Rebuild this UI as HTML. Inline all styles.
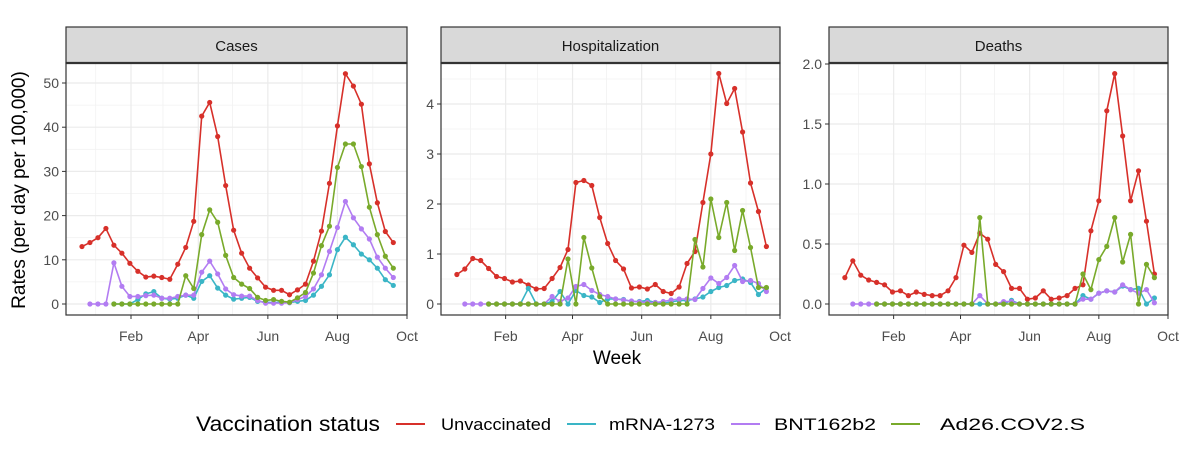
<!DOCTYPE html>
<html><head><meta charset="utf-8"><style>
body{margin:0;background:#fff;}
svg{display:block;font-family:"Liberation Sans",sans-serif;}
</style></head><body>
<svg id="chart" width="1200" height="451" viewBox="0 0 1200 451"></svg>
<script>
const weeks = Array.from({length:40},(_,k)=>k); // week index, day = -12 + 7k (days from Jan 1)
const monthTicks = ["Feb","Apr","Jun","Aug","Oct"];
const monthDays = [31,90,151,212,273];
const minorDays = [0,59,120,181,243];
const seriesNames = ["Unvaccinated","mRNA-1273","BNT162b2","Ad26.COV2.S"];
const colors = ["#d7302a","#3ab5c6","#b27cf2","#79aa2b"];
const panelTitles = ["Cases","Hospitalization","Deaths"];
const casesUnvax = [13,13.9,15,17.1,13.3,11.5,9.2,7.4,6.1,6.3,6,5.6,9,12.8,18.7,42.5,45.6,37.9,26.8,16.7,11.5,8.1,5.9,3.8,3.1,3.1,2.1,3.2,4.5,9.7,16.5,27.3,40.3,52.1,49.3,45.2,31.7,22.9,16.4,13.9];
const casesMrna = [null,null,null,null,0,0,0,1,2.3,2.8,1.3,1.1,1.3,2,1.3,5.1,6.4,3.6,2,1.1,1.3,1.5,0.6,0.4,0.3,0.4,0.3,0.6,0.8,2,4,6.6,12.3,15.1,13.4,11.3,10,8.1,5.5,4.2];
const casesBnt = [null,0,0,0,9.3,4,1.7,1.7,1.9,2,1.3,1.3,1.7,2,2,7.2,9.7,6.8,3.4,2.1,1.8,1.8,0.8,0.2,0.2,0.2,0.3,1,1.7,3.4,6.6,11.9,17.3,23.2,19.5,17,14.7,10.6,8.1,6];
const casesAd26 = [null,null,null,null,0,0,0,0,0,0,0,0,0,6.4,3.5,15.7,21.3,18.5,11,6,4.5,3.5,1.5,0.8,1,0.6,0.4,1.4,2.6,7,13.2,17.6,30.9,36.2,36.2,31.1,21.9,15.7,10.8,8.1];
const hospUnvax = [0.59,0.7,0.91,0.87,0.71,0.55,0.51,0.44,0.46,0.38,0.3,0.31,0.51,0.73,1.09,2.43,2.47,2.37,1.73,1.21,0.87,0.7,0.32,0.34,0.3,0.39,0.25,0.21,0.34,0.81,1.05,2.03,3,4.61,4.01,4.31,3.44,2.42,1.85,1.15];
const hospMrna = [null,null,null,null,0,0,0,0,0,0.31,0,0,0.05,0.25,0,0.27,0.17,0.14,0.03,0.1,0.1,0.09,0.05,0.05,0.07,0.03,0.02,0.04,0.07,0.07,0.1,0.14,0.25,0.33,0.37,0.47,0.5,0.43,0.19,0.32];
const hospBnt = [null,0,0,0,0,0,0,0,0,0,0,0,0.15,0.05,0.12,0.35,0.39,0.27,0.19,0.15,0.1,0.08,0.06,0.04,0.03,0.03,0.05,0.08,0.1,0.1,0.09,0.31,0.52,0.41,0.53,0.77,0.45,0.47,0.41,0.25];
const hospAd26 = [null,null,null,null,0,0,0,0,0,0,0,0,0,0,0.9,0,1.33,0.72,0.15,0,0,0,0,0,0,0,0,0,0,0,1.29,0.74,2.1,1.33,2.03,1.07,1.87,1.13,0.33,0.33];
const deathUnvax = [0.22,0.36,0.24,0.2,0.18,0.16,0.1,0.11,0.07,0.1,0.08,0.07,0.07,0.11,0.22,0.49,0.43,0.59,0.54,0.33,0.27,0.13,0.13,0.04,0.05,0.11,0.04,0.05,0.07,0.13,0.16,0.61,0.86,1.61,1.92,1.4,0.86,1.11,0.69,0.25];
const deathMrna = [null,null,null,null,0,0,0,0,0,0,0,0,0,0,0,0,0,0,0,0,0,0.03,0,0,0,0,0,0,0,0,0.07,0.04,0.09,0.11,0.1,0.15,0.12,0.13,0,0.05];
const deathBnt = [null,0,0,0,0,0,0,0,0,0,0,0,0,0,0,0,0,0.07,0,0,0.02,0.02,0,0,0,0,0,0,0,0,0.04,0.04,0.09,0.11,0.1,0.16,0.12,0.09,0.12,0.01];
const deathAd26 = [null,null,null,null,0,0,0,0,0,0,0,0,0,0,0,0,0,0.72,0,0,0,0,0,0,0,0,0,0,0,0,0.25,0.12,0.37,0.48,0.72,0.35,0.58,0,0.33,0.22];
const yTicksCases = [0,10,20,30,40,50];
const yTicksHosp = [0,1,2,3,4];
const yTicksDeath = [0,0.5,1,1.5,2];
const yTickLabelsDeath = ["0.0","0.5","1.0","1.5","2.0"];

const svg = document.getElementById('chart');
const NS = 'http://www.w3.org/2000/svg';
function mk(tag, attrs, parent){const e=document.createElementNS(NS,tag);for(const k in attrs)e.setAttribute(k,attrs[k]);(parent||svg).appendChild(e);return e;}

const panels = [
  {left:66, right:407, data:[casesUnvax,casesMrna,casesBnt,casesAd26], ticks:yTicksCases, labels:yTicksCases.map(String), y0:304, y1:83, v1:50},
  {left:441, right:780, data:[hospUnvax,hospMrna,hospBnt,hospAd26], ticks:yTicksHosp, labels:yTicksHosp.map(String), y0:304, y1:104, v1:4},
  {left:829, right:1168, data:[deathUnvax,deathMrna,deathBnt,deathAd26], ticks:yTicksDeath, labels:yTickLabelsDeath, y0:304, y1:64, v1:2}
];
const plotTop=63, plotBottom=315, stripTop=27;
const dayMin=-26, dayMax=273;

panels.forEach((p,pi)=>{
  const g = mk('g',{});
  
  
  const xs = d => p.left + (d-dayMin)/(dayMax-dayMin)*(p.right-p.left);
  const ys = v => p.y0 - v/p.v1*(p.y0-p.y1);
  minorDays.forEach(d=>{const x=xs(d); if(x>p.left&&x<p.right) mk('line',{x1:x,x2:x,y1:plotTop,y2:plotBottom,stroke:'#f2f2f2','stroke-width':0.8},g);});
  for(let i=0;i<p.ticks.length;i++){
    const mid=(p.ticks[i]+(p.ticks[1]-p.ticks[0])/2); const y=ys(mid);
    if(y>plotTop) mk('line',{x1:p.left,x2:p.right,y1:y,y2:y,stroke:'#f2f2f2','stroke-width':0.8},g);
  }
  monthDays.forEach(d=>{const x=xs(d); mk('line',{x1:x,x2:x,y1:plotTop,y2:plotBottom,stroke:'#ebebeb','stroke-width':1.2},g);});
  p.ticks.forEach((t,i)=>{const y=ys(t);
    mk('line',{x1:p.left,x2:p.right,y1:y,y2:y,stroke:'#ebebeb','stroke-width':1.2},g);
    mk('line',{x1:p.left-4,x2:p.left,y1:y,y2:y,stroke:'#333','stroke-width':1},g);
    const tx=mk('text',{x:p.left-7,y:y+5,'text-anchor':'end','font-size':14,fill:'#4d4d4d'},g);
    tx.textContent=p.labels[i];
    
    
  });
  monthDays.forEach((d,i)=>{const x=xs(d);
    mk('line',{x1:x,x2:x,y1:plotBottom,y2:plotBottom+4,stroke:'#333','stroke-width':1},g);
    const tx=mk('text',{x:x,y:plotBottom+26,'text-anchor':'middle','font-size':14,fill:'#4d4d4d'},g);
    tx.textContent=monthTicks[i];
    
    
  });
  p.data.forEach((arr,si)=>{
    let pts=[];
    weeks.forEach(k=>{ if(arr[k]!==null && arr[k]!==undefined) pts.push([xs(-12+7*k), ys(arr[k])]); });
    const pl=mk('polyline',{points:pts.map(q=>q.join(',')).join(' '),fill:'none',stroke:colors[si],'stroke-width':1.6},g);
    
    
    pts.forEach(q=>{const c=mk('circle',{cx:q[0],cy:q[1],r:2.6,fill:colors[si]},g);
      
      });
  });
  mk('rect',{x:p.left,y:plotTop,width:p.right-p.left,height:plotBottom-plotTop,fill:'none',stroke:'#333','stroke-width':1.2},g);
  const st=mk('rect',{x:p.left,y:stripTop,width:p.right-p.left,height:plotTop-stripTop,fill:'#d9d9d9',stroke:'#333','stroke-width':1.2},g);
  
  
  mk('line',{x1:p.left,x2:p.right,y1:plotTop,y2:plotTop,stroke:'#333','stroke-width':2.2},g);
  const tt=mk('text',{x:(p.left+p.right)/2,y:51,'text-anchor':'middle','font-size':15,fill:'#1a1a1a'},g);
  tt.textContent=panelTitles[pi];
  
  
});
const yt=mk('text',{x:0,y:0,transform:'translate(25,190) rotate(-90)','text-anchor':'middle','font-size':19,fill:'#000'});
yt.textContent='Rates (per day per 100,000)';


const xt=mk('text',{x:617,y:364,'text-anchor':'middle','font-size':19,fill:'#000'});
xt.textContent='Week';


const lg=mk('g',{});


const lt=mk('text',{x:196,y:431,'font-size':21,fill:'#000',textLength:184,lengthAdjust:'spacingAndGlyphs'},lg);
lt.textContent='Vaccination status';


const lineX=[396,567,731,891], textX=[441,609,774,940], textW=[110,106,102,145];
seriesNames.forEach((n,i)=>{
  const l=mk('line',{x1:lineX[i],x2:lineX[i]+29,y1:424,y2:424,stroke:colors[i],'stroke-width':2},lg);
  
  
  const t=mk('text',{x:textX[i],y:430,'font-size':17,fill:'#000',textLength:textW[i],lengthAdjust:'spacingAndGlyphs'},lg);
  t.textContent=n;
  
  
});
</script>
</body></html>
